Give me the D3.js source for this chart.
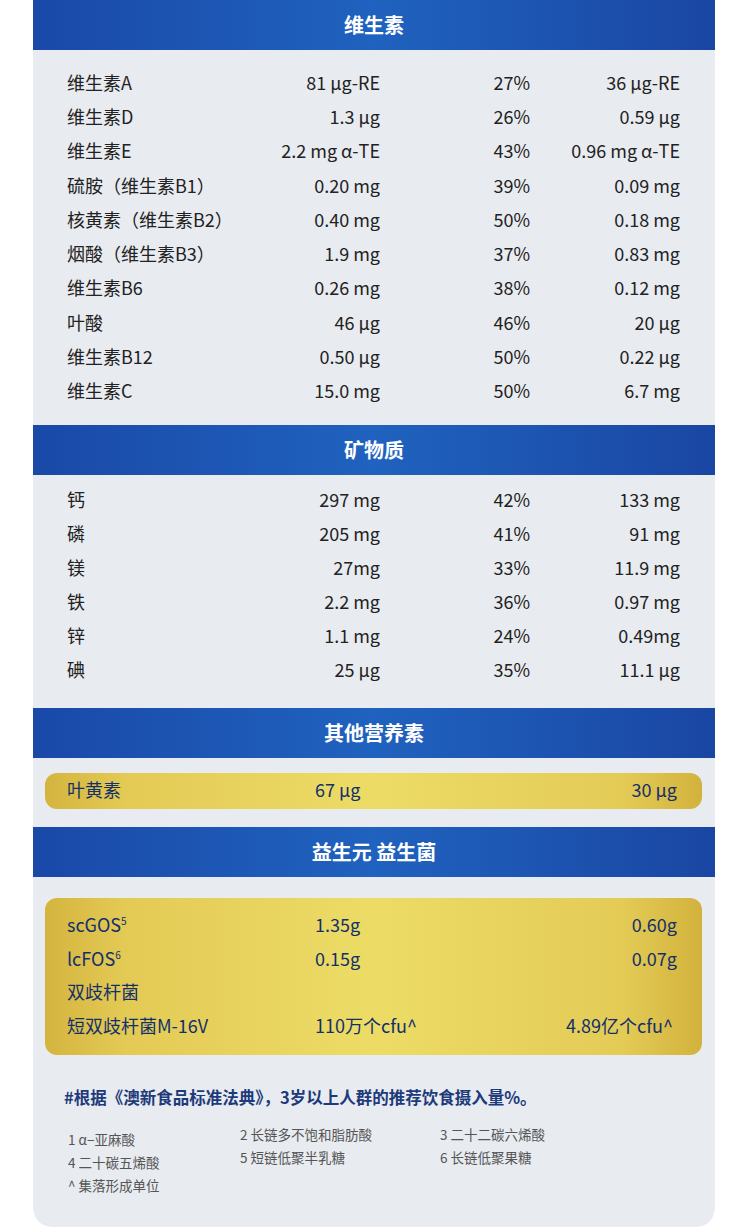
<!DOCTYPE html><html><head><meta charset="utf-8"><script src="https://cdn.jsdelivr.net/npm/d3@7"></script>
<style>body{margin:0;background:#fff}</style></head><body><script>
const vitNames=["维生素A","维生素D","维生素E","硫胺（维生素B1）","核黄素（维生素B2）","烟酸（维生素B3）","维生素B6","叶酸","维生素B12","维生素C"];
const vitPer100=["81 µg-RE","1.3 µg","2.2 mg α-TE","0.20 mg","0.40 mg","1.9 mg","0.26 mg","46 µg","0.50 µg","15.0 mg"];
const vitPct=["27%","26%","43%","39%","50%","37%","38%","46%","50%","50%"];
const vitServe=["36 µg-RE","0.59 µg","0.96 mg α-TE","0.09 mg","0.18 mg","0.83 mg","0.12 mg","20 µg","0.22 µg","6.7 mg"];
const minNames=["钙","磷","镁","铁","锌","碘"];
const minPer100=["297 mg","205 mg","27mg","2.2 mg","1.1 mg","25 µg"];
const minPct=["42%","41%","33%","36%","24%","35%"];
const minServe=["133 mg","91 mg","11.9 mg","0.97 mg","0.49mg","11.1 µg"];
const otherNames=["叶黄素"],otherPer100=["67 µg"],otherServe=["30 µg"];
const proNames=["scGOS","lcFOS","双歧杆菌","短双歧杆菌M-16V"],proSup=["5","6","",""];
const proPer100=["1.35g","0.15g","","110万个cfu^"],proServe=["0.60g","0.07g","","4.89亿个cfu^"];
const headers=["维生素","矿物质","其他营养素","益生元 益生菌"];
const notes=[["1 α−亚麻酸","2 长链多不饱和脂肪酸","3 二十二碳六烯酸"],["4 二十碳五烯酸","5 短链低聚半乳糖","6 长链低聚果糖"],["^ 集落形成单位","",""]];
const W=750,H=1232,F="'Noto Sans CJK SC','Noto Sans',sans-serif";
const svg=d3.select("body").append("svg").attr("width",W).attr("height",H);
const defs=svg.append("defs");
const bg=defs.append("linearGradient").attr("id","bl");
bg.append("stop").attr("offset","0").attr("stop-color","#1a49a8");
bg.append("stop").attr("offset","0.5").attr("stop-color","#2062bf");
bg.append("stop").attr("offset","1").attr("stop-color","#1a46a3");
const gg=defs.append("linearGradient").attr("id","gd");
gg.append("stop").attr("offset","0").attr("stop-color","#d4b43e");
gg.append("stop").attr("offset","0.12").attr("stop-color","#e3ca55");
gg.append("stop").attr("offset","0.5").attr("stop-color","#ecdc66");
gg.append("stop").attr("offset","0.88").attr("stop-color","#e3cb56");
gg.append("stop").attr("offset","1").attr("stop-color","#d2b23c");
svg.append("path").attr("fill","#e8ebf0").attr("d",`M33,0H715V1205Q715,1227 693,1227H55Q33,1227 33,1205Z`);
const hy=[0,425,708,827];
headers.forEach((h,i)=>{svg.append("rect").attr("x",33).attr("y",hy[i]).attr("width",682).attr("height",50).attr("fill","url(#bl)");
svg.append("text").attr("x",374).attr("y",hy[i]+33).attr("text-anchor","middle").attr("fill","#fff").attr("font-family",F).attr("font-weight","bold").attr("font-size",20).text(h);});
const xc={name:67,c2:380,c3:530,c4:680};
function table(names,a,b,c,y0,y1){const y=d3.scalePoint().domain(d3.range(names.length)).range([y0,y1]);
const g=svg.append("g").attr("font-family",F).attr("font-size",18).attr("fill","#222");
names.forEach((n,i)=>{const yy=y(i)+6;
g.append("text").attr("x",xc.name).attr("y",yy).text(n);
g.append("text").attr("x",xc.c2).attr("y",yy).attr("text-anchor","end").text(a[i]);
g.append("text").attr("x",xc.c3).attr("y",yy).attr("text-anchor","end").text(b[i]);
g.append("text").attr("x",xc.c4).attr("y",yy).attr("text-anchor","end").text(c[i]);});}
table(vitNames,vitPer100,vitPct,vitServe,84,392);
table(minNames,minPer100,minPct,minServe,501,671);
svg.append("rect").attr("x",45).attr("y",773).attr("width",657).attr("height",36).attr("rx",12).attr("fill","url(#gd)");
const NV="#13306b";
otherNames.forEach((n,i)=>{const g=svg.append("g").attr("font-family",F).attr("font-size",18).attr("fill",NV);
g.append("text").attr("x",67).attr("y",797).text(n);
g.append("text").attr("x",315).attr("y",797).text(otherPer100[i]);
g.append("text").attr("x",677).attr("y",797).attr("text-anchor","end").text(otherServe[i]);});
svg.append("rect").attr("x",45).attr("y",898).attr("width",657).attr("height",157).attr("rx",12).attr("fill","url(#gd)");
const py=d3.scalePoint().domain(d3.range(proNames.length)).range([926,1027]);
proNames.forEach((n,i)=>{const g=svg.append("g").attr("font-family",F).attr("font-size",18).attr("fill",NV);const yy=py(i)+6;
const t=g.append("text").attr("x",67).attr("y",yy).text(n);
if(proSup[i])t.append("tspan").attr("font-size",10).attr("dy",-7).text(proSup[i]);
g.append("text").attr("x",315).attr("y",yy).text(proPer100[i]);
g.append("text").attr("x",i==3?673:677).attr("y",yy).attr("text-anchor","end").text(proServe[i]);});
svg.append("text").attr("x",64).attr("y",1104).attr("font-family",F).attr("font-weight","bold").attr("font-size",16.5).attr("fill","#1d3a7a").text("#根据《澳新食品标准法典》，3岁以上人群的推荐饮食摄入量%。");
const nx=[68,240,440];
notes.forEach((r,j)=>r.forEach((t,k)=>{if(!t)return;svg.append("text").attr("x",nx[k]).attr("y",(k==0?1145:1140)+j*23).attr("font-family",F).attr("font-size",13.5).attr("fill","#555").text(t);}));
</script></body></html>
